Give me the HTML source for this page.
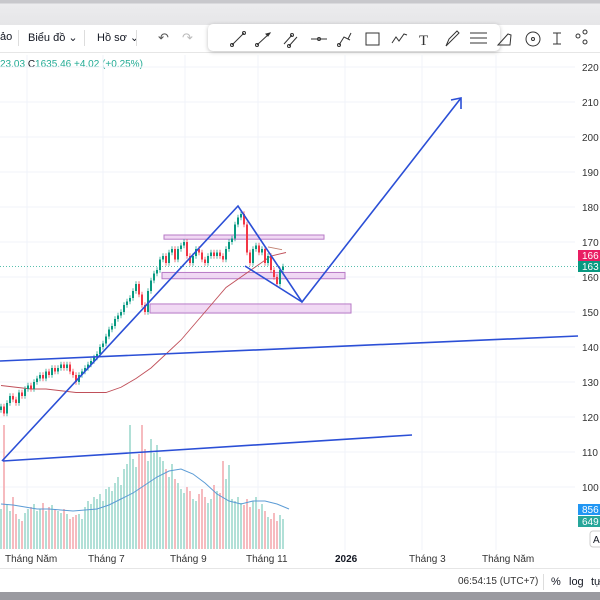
<!DOCTYPE html>
<html><head><meta charset="utf-8"><style>
body{margin:0;width:600px;height:600px;overflow:hidden;background:#fff;font-family:"Liberation Sans","Noto Sans CJK SC",sans-serif;position:relative}
.t{position:absolute;font-size:11px;color:#131722;white-space:nowrap}
</style></head><body>
<div style="position:absolute;left:0;top:0;width:600px;height:25px;background:linear-gradient(#c8c8cc 0,#c8c8cc 3px,#ececee 4px,#e6e6e8 25px)"></div>
<div style="position:absolute;left:0;top:25px;width:600px;height:27px;background:#fff;border-bottom:1px solid #e6e6e6"></div>
<div class="t" style="left:0;top:31px;font-size:11px">ảo</div>
<div style="position:absolute;left:18px;top:30px;width:1px;height:16px;background:#ddd"></div>
<div class="t" style="left:28px;top:31px">Biểu đồ ⌄</div>
<div style="position:absolute;left:84px;top:30px;width:1px;height:16px;background:#ddd"></div>
<div class="t" style="left:97px;top:31px">Hồ sơ ⌄</div>
<div style="position:absolute;left:136px;top:30px;width:1px;height:16px;background:#ddd"></div>
<div class="t" style="left:158px;top:30px;font-size:13px;color:#555">↶</div>
<div class="t" style="left:182px;top:30px;font-size:13px;color:#bbb">↷</div>
<div style="position:absolute;left:208px;top:24px;width:292px;height:27px;background:#fff;border-radius:5px;box-shadow:0 1px 4px rgba(0,0,0,.25)"></div>
<svg style="position:absolute;left:0;top:0" width="600" height="60">
<g stroke="#333" fill="none" stroke-width="1">
<line x1="232" y1="45" x2="244" y2="33"/><circle cx="232" cy="45" r="1.5"/><circle cx="244" cy="33" r="1.5"/>
<line x1="257" y1="45" x2="270" y2="33"/><circle cx="257" cy="45" r="1.5"/><path d="M270 33l-4 1 2 2z" fill="#333"/>
<line x1="284" y1="44" x2="292" y2="35"/><line x1="289" y1="46" x2="297" y2="37"/><circle cx="292" cy="35" r="1.5"/><circle cx="289" cy="46" r="1.5"/>
<line x1="311" y1="39" x2="327" y2="39"/><circle cx="319" cy="39" r="1.5"/>
<path d="M339 45l5-8 6 3M351 33l-3 6"/><circle cx="339" cy="45" r="1.5"/>
<rect x="366" y="33" width="13" height="12"/>
<path d="M392 43l4-6 3 4 5-7 3 1"/>
<text x="419" y="45" font-size="15" fill="#333" stroke="none" font-family="Liberation Serif">T</text>
<path d="M446 46l3-7 8-8 2 2-8 8z"/>
<line x1="470" y1="33" x2="487" y2="33"/><line x1="470" y1="38" x2="487" y2="38"/><line x1="470" y1="43" x2="487" y2="43"/>
<path d="M498 45l10-11 3 1-1 10z"/>
<circle cx="533" cy="39" r="7"/><circle cx="533" cy="39" r="1.5"/>
<path d="M553 33h8M557 33v11M553 44h8"/>
<circle cx="578" cy="36" r="2"/><circle cx="585" cy="32" r="2"/><circle cx="585" cy="42" r="2"/>
</g></svg>
<div class="t" style="left:0;top:59px;font-size:10px;color:#22ab94">23.03 <span style="color:#131722">C</span>1635.46 +4.02 (+0.25%)</div>
<svg id="chart" style="position:absolute;left:0;top:0" width="600" height="600"></svg>
<div class="t" style="left:5px;top:554px;font-size:10px;color:#333">Tháng Năm</div>
<div class="t" style="left:88px;top:554px;font-size:10px;color:#333">Tháng 7</div>
<div class="t" style="left:170px;top:554px;font-size:10px;color:#333">Tháng 9</div>
<div class="t" style="left:246px;top:554px;font-size:10px;color:#333">Tháng 11</div>
<div class="t" style="left:335px;top:554px;font-size:10px;color:#131722;font-weight:bold">2026</div>
<div class="t" style="left:409px;top:554px;font-size:10px;color:#333">Tháng 3</div>
<div class="t" style="left:482px;top:554px;font-size:10px;color:#333">Tháng Năm</div>
<div style="position:absolute;left:0;top:568px;width:600px;height:24px;background:#fff;border-top:1px solid #e6e6e6"></div>
<div class="t" style="left:458px;top:576px;font-size:10px;color:#333">06:54:15 (UTC+7)</div>
<div style="position:absolute;left:543px;top:574px;width:1px;height:16px;background:#ddd"></div>
<div class="t" style="left:551px;top:576px;font-size:11px">%</div>
<div class="t" style="left:569px;top:576px;font-size:11px">log</div>
<div class="t" style="left:591px;top:576px;font-size:11px">tự</div>
<div style="position:absolute;left:0;top:592px;width:600px;height:8px;background:#9a9aa0"></div>
<script>
const closes=[123,121,124,126,125,124,127,126,128,129,128,130,131,132,131,133,132,134,133,134,135,134,135,133,132,130,132,133,134,135,136,137,138,140,141,143,145,146,148,149,150,152,153,154,156,158,155,152,150,156,159,161,162,165,166,164,167,168,165,168,169,170,166,164,166,168,167,165,164,166,167,166,167,166,165,168,170,171,175,177,178,175,167,164,168,169,167,168,164,166,162,160,158,162,163];
const maValues=[129,128.5,128,128,127.5,127,127,127,128.5,131,134,138,142,147,152,157,160,163,166,167];
const volumes=[40,124,45,38,52,35,30,28,36,40,42,45,38,40,46,38,42,44,40,38,36,40,35,30,32,34,35,30,42,48,45,52,50,55,48,60,62,58,66,72,64,80,85,124,90,82,95,124,100,88,110,96,104,92,88,80,72,85,70,66,60,56,62,58,50,48,55,60,52,46,50,64,58,56,88,70,84,50,48,52,46,44,50,42,48,52,40,45,38,32,30,36,28,34,30];
const volMa=[45,44,42,40,40,39,38,39,40,44,50,56,64,72,78,80,75,66,55,48,45,48,48,45,40];
const priceTicks=[220,210,200,190,180,170,160,150,140,130,120,110,100];
const timeTickX=[27,103,185,258,345,422,496];
const svg=document.getElementById('chart');const NS='http://www.w3.org/2000/svg';
const y=v=>67+(220-v)*3.5;
const x=i=>1+i*3;
const volY=v=>549-v;
function mk(tag,attrs,parent){const e=document.createElementNS(NS,tag);for(const k in attrs)e.setAttribute(k,attrs[k]);(parent||svg).appendChild(e);return e;}
// grid
priceTicks.forEach(v=>{const l=mk('line',{x1:0,x2:575,y1:y(v),y2:y(v),stroke:'#f0f3fa'});


const t=mk('text',{x:582,y:y(v)+4,'font-size':10,fill:'#333','font-family':'Liberation Sans'});t.textContent=v;

});
timeTickX.forEach(tx=>{const l=mk('line',{x1:tx,x2:tx,y1:55,y2:550,stroke:'#f0f3fa'});

});
// volume
volumes.forEach((v,i)=>{const up=i==0||closes[i]>=closes[i-1];const r=mk('rect',{x:x(i)-0.9,y:volY(v),width:1.8,height:v,fill:up?'#a9dcd3':'#f6b4b8'});

});
const vm=mk('polyline',{points:volMa.map((v,k)=>[x(k*4),volY(v)].join(',')).join(' '),fill:'none',stroke:'#5b9bd5','stroke-width':1});


// rectangles
[[164,172,324,170.8],[162,161.3,345,159.5],[150,152.3,351,149.7]].forEach(r=>{const e=mk('rect',{x:r[0],y:y(r[1]),width:r[2]-r[0],height:y(r[3])-y(r[1]),fill:'rgba(225,170,230,0.45)',stroke:'#b77ac6','stroke-width':1});

});
// MA
const ma=mk('polyline',{points:maValues.map((v,k)=>[x(k*5),y(v)].join(',')).join(' '),fill:'none',stroke:'#c0505a','stroke-width':0.9});


const ma2=mk('line',{x1:268,y1:y(168.6),x2:282,y2:y(167.8),stroke:'#c08070','stroke-width':0.9});


// last price line
const pl=mk('line',{x1:0,x2:578,y1:y(163),y2:y(163),stroke:'#22ab94','stroke-dasharray':'1 2','stroke-width':0.8});


// candles
closes.forEach((c,i)=>{const o=i==0?c-1:closes[i-1];const up=c>=o;const col=up?'#089981':'#f23645';
const hi=Math.max(o,c)+0.8,lo=Math.min(o,c)-0.8;
const w=mk('line',{x1:x(i),x2:x(i),y1:y(hi),y2:y(lo),stroke:col,'stroke-width':0.7});


const b=mk('rect',{x:x(i)-1,y:y(Math.max(o,c)),width:2,height:Math.max(1,Math.abs(y(o)-y(c))),fill:col});

});
// drawings
function ln(a,b,c,d,n){const e=mk('line',{x1:a,y1:b,x2:c,y2:d,stroke:'#2b4fd6','stroke-width':1.6});

}
ln(0,361,578,336,'upper-trendline');
ln(3,461,412,435,'lower-trendline');
const path=mk('polyline',{points:'2,461 238,206 302,302 461,98',fill:'none',stroke:'#2b4fd6','stroke-width':1.6});


ln(245,266,302,302,'wedge-lower-line');
const ah=mk('polyline',{points:'451,100 461,98 461,109',fill:'none',stroke:'#2b4fd6','stroke-width':1.6});


// price labels
[[250,'#e91e63','166'],[261,'#089981','163'],[504,'#2196f3','856'],[516,'#26a69a','649']].forEach(p=>{
const r=mk('rect',{x:578,y:p[0],width:22,height:11,fill:p[1]});


const t=mk('text',{x:582,y:p[0]+9,'font-size':10,fill:'#fff','font-family':'Liberation Sans'});t.textContent=p[2];

});
const ab=mk('rect',{x:590,y:531,width:14,height:16,rx:3,fill:'#fff',stroke:'#ccc'});


const at=mk('text',{x:593,y:543,'font-size':10,fill:'#131722','font-family':'Liberation Sans'});at.textContent='A';


</script>
</body></html>
